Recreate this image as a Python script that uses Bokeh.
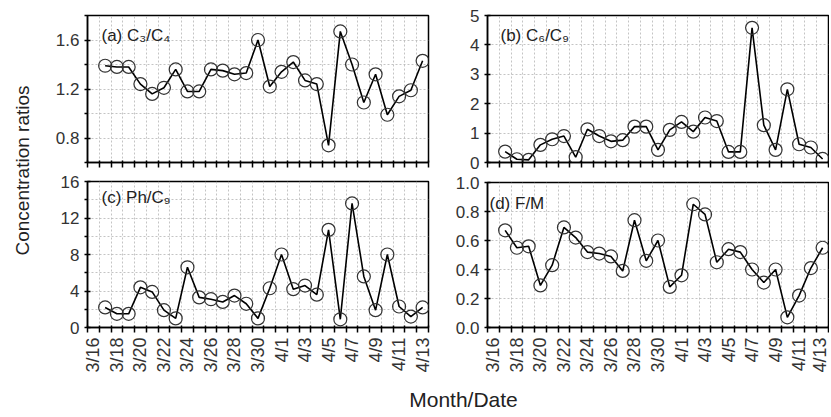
import numpy as np
from bokeh.plotting import figure
from bokeh.models import Range1d, FixedTicker, PrintfTickFormatter, Label
from bokeh.layouts import row, column
from bokeh.core.properties import value
from bokeh.embed import file_html
from bokeh.resources import INLINE

# ---- data -------------------------------------------------------------
dates = ["3/16", "3/17", "3/18", "3/19", "3/20", "3/21", "3/22", "3/23", "3/24",
         "3/25", "3/26", "3/27", "3/28", "3/29", "3/30", "3/31", "4/1", "4/2",
         "4/3", "4/4", "4/5", "4/6", "4/7", "4/8", "4/9", "4/10", "4/11", "4/12",
         "4/13"]
sample_dates = dates[1:]  # samples from 3/17 to 4/13

ratio_c3_c4 = [1.39, 1.38, 1.38, 1.24, 1.16, 1.21, 1.36, 1.18, 1.18, 1.36,
               1.35, 1.32, 1.33, 1.60, 1.22, 1.34, 1.42, 1.27, 1.24, 0.74,
               1.67, 1.40, 1.09, 1.32, 0.99, 1.14, 1.19, 1.43]
ratio_c6_c9 = [0.37, 0.11, 0.09, 0.60, 0.79, 0.90, 0.18, 1.13, 0.90, 0.72,
               0.76, 1.22, 1.22, 0.43, 1.11, 1.38, 1.05, 1.53, 1.41, 0.36,
               0.36, 4.58, 1.27, 0.43, 2.49, 0.62, 0.51, 0.12]
ratio_ph_c9 = [2.2, 1.5, 1.5, 4.4, 3.9, 1.9, 1.0, 6.6, 3.3, 3.1,
               2.8, 3.5, 2.6, 1.0, 4.3, 8.0, 4.2, 4.6, 3.6, 10.7,
               0.9, 13.6, 5.6, 1.9, 8.0, 2.3, 1.2, 2.2]
ratio_f_m = [0.67, 0.55, 0.56, 0.29, 0.43, 0.69, 0.62, 0.52, 0.51, 0.49,
             0.39, 0.74, 0.46, 0.60, 0.28, 0.36, 0.85, 0.78, 0.45, 0.54,
             0.52, 0.40, 0.31, 0.40, 0.07, 0.22, 0.41, 0.55]

panel_titles = ["(a) C\u2083/C\u2084", "(b) C\u2086/C\u2089",
                "(c) Ph/C\u2089", "(d) F/M"]
y_title = "Concentration ratios"
x_title = "Month/Date"

FONT = "Liberation Sans"

idx = {d: i for i, d in enumerate(dates)}
xs = [idx[d] for d in sample_dates]
boundaries = [i - 0.5 for i in range(len(dates) + 1)]
label_pos = list(range(0, len(dates), 2))


def panel(vals, title, yr, majors, minors, fmt, show_xlabels, width, height,
          bl, br, bt, bb, title_dx, title_dy):
    p = figure(width=width, height=height, output_backend="svg",
               toolbar_location=None, x_range=Range1d(-0.5, len(dates) - 0.5),
               y_range=Range1d(*yr), min_border_left=bl, min_border_right=br,
               min_border_top=bt, min_border_bottom=bb,
               background_fill_color="white", border_fill_color="white")
    p.outline_line_color = "black"
    p.outline_line_width = 1.5

    # x axis
    xa = p.xaxis[0]
    if show_xlabels:
        xa.ticker = FixedTicker(ticks=label_pos, minor_ticks=boundaries)
        xa.major_label_overrides = {i: dates[i] for i in label_pos}
        xa.major_label_orientation = np.pi / 2
        xa.major_label_text_font = FONT
        xa.major_label_text_font_size = "18px"
        xa.major_label_text_color = "#333333"
        xa.major_label_standoff = 5
    else:
        xa.ticker = FixedTicker(ticks=[], minor_ticks=boundaries)
    xa.major_tick_in = 0
    xa.major_tick_out = 0
    xa.minor_tick_in = 2
    xa.minor_tick_out = 5
    xa.minor_tick_line_color = "black"
    xa.minor_tick_line_width = 1.5
    xa.axis_line_color = "black"
    xa.axis_line_width = 1.5

    # y axis
    ya = p.yaxis[0]
    ya.ticker = FixedTicker(ticks=majors, minor_ticks=minors)
    ya.formatter = PrintfTickFormatter(format=fmt)
    ya.major_label_text_font = FONT
    ya.major_label_text_font_size = "17px"
    ya.major_label_text_color = "#333333"
    ya.major_label_standoff = 5
    ya.major_tick_in = 3
    ya.major_tick_out = 3
    ya.minor_tick_in = 0
    ya.minor_tick_out = 3
    ya.major_tick_line_color = "black"
    ya.minor_tick_line_color = "black"
    ya.major_tick_line_width = 1.5
    ya.minor_tick_line_width = 1.5
    ya.axis_line_color = "black"
    ya.axis_line_width = 1.5

    # grids
    p.xgrid.grid_line_color = None
    p.xgrid.minor_grid_line_color = "#b5b5b5"
    p.xgrid.minor_grid_line_dash = "2 2"
    p.xgrid.minor_grid_line_width = 0.8
    p.ygrid.grid_line_color = "#b5b5b5"
    p.ygrid.grid_line_dash = "2 2"
    p.ygrid.grid_line_width = 0.8
    p.ygrid.minor_grid_line_color = "#b5b5b5"
    p.ygrid.minor_grid_line_dash = "2 2"
    p.ygrid.minor_grid_line_width = 0.8

    p.line(xs, vals, line_color="black", line_width=1.6)
    p.scatter(xs, vals, marker="circle", size=13, fill_color=None,
              line_color="#333333", line_width=1.2)

    frame_h = height - bt - bb
    p.add_layout(Label(x=title_dx, y=frame_h - title_dy, x_units="screen",
                       y_units="screen", text=title, text_font=FONT,
                       text_font_size="17px", text_color="#222222",
                       text_align="left", text_baseline="middle"))
    return p


pa = panel(ratio_c3_c4, panel_titles[0], (0.6, 1.8), [0.8, 1.2, 1.6],
           [0.6, 1.0, 1.4, 1.8], "%.1f", False, 400, 174, 39, 20, 15, 12, 14, 20)
pb = panel(ratio_c6_c9, panel_titles[1], (0, 5), [0, 1, 2, 3, 4, 5], [],
           "%d", False, 381, 174, 39, 1, 15, 12, 13, 20)
pc = panel(ratio_ph_c9, panel_titles[2], (0, 16), [0, 4, 8, 12, 16],
           [2, 6, 10, 14], "%d", True, 400, 206, 39, 20, 7, 53, 14, 16)
pd_ = panel(ratio_f_m, panel_titles[3], (0, 1.0), [0, 0.2, 0.4, 0.6, 0.8, 1.0],
            [], "%.1f", True, 381, 206, 39, 1, 8, 53, 2, 21)

# shared axis titles
yl = figure(width=48, height=380, output_backend="svg", toolbar_location=None,
            x_range=Range1d(0, 48), y_range=Range1d(0, 380), x_axis_type=None,
            y_axis_type=None, min_border=0, outline_line_color=None)
yl.text(x=[22], y=[210], text=[y_title], angle=np.pi / 2,
        text_font=value(FONT), text_font_size="19px", text_color="#222222",
        text_align="center", text_baseline="middle")

xl = figure(width=829, height=37, output_backend="svg", toolbar_location=None,
            x_range=Range1d(0, 829), y_range=Range1d(0, 37), x_axis_type=None,
            y_axis_type=None, min_border=0, outline_line_color=None)
xl.text(x=[463], y=[18], text=[x_title], text_font=value(FONT),
        text_font_size="21px", text_color="#222222", text_align="center",
        text_baseline="middle")

layout = column(row(yl, column(pa, pc), column(pb, pd_)), xl)

open("out.html", "w").write(file_html(layout, INLINE))
